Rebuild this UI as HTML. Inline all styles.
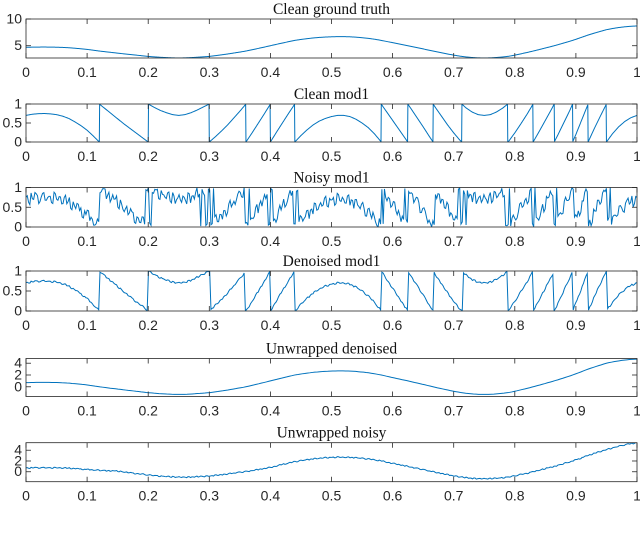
<!DOCTYPE html>
<html><head><meta charset="utf-8"><style>
html,body{margin:0;padding:0;background:#fff;}
svg{display:block;}
.tt{font-family:"Liberation Serif",serif;font-size:15.5px;fill:#111;}
.tk{font-family:"Liberation Sans",sans-serif;font-size:14px;fill:#262626;}
</style></head><body>
<svg id="fig" width="640" height="535" viewBox="0 0 640 535" xmlns="http://www.w3.org/2000/svg"></svg>
<script>
// ground-truth unwrapped phase g(t) (offset removed), t = 0..1 step 0.01
const gVals = [0.70,0.73,0.745,0.75,0.74,0.72,0.68,0.62,0.53,0.43,0.31,0.16,0.0,-0.13,-0.26,-0.39,-0.52,-0.64,-0.76,-0.88,
-1.0,-1.09,-1.17,-1.23,-1.28,-1.30,-1.28,-1.23,-1.16,-1.08,-1.0,-0.86,-0.71,-0.55,-0.37,-0.19,0.0,0.24,0.49,0.74,
1.0,1.26,1.51,1.76,2.0,2.17,2.32,2.45,2.55,2.62,2.67,2.70,2.70,2.67,2.60,2.50,2.38,2.22,2.03,1.80,
1.57,1.34,1.11,0.88,0.64,0.40,0.15,-0.09,-0.32,-0.55,-0.76,-0.95,-1.10,-1.21,-1.28,-1.30,-1.28,-1.21,-1.11,-0.98,
-0.76,-0.52,-0.27,0.0,0.28,0.57,0.86,1.17,1.5,1.83,2.2,2.6,3.0,3.35,3.68,4.0,4.22,4.4,4.54,4.64,4.70];
const truthOffset = 4.0;
// noise samples (normalised) used for noisy observations
const noiseVals = [0.3,-0.5,0.8,-0.2,0.6,-0.9,0.1,0.7,-0.4,0.2,-0.7,0.9,-0.1,0.4,-0.6,0.5,-0.3,0.8,-0.8,0.0,
0.6,-0.2,-0.9,0.3,0.7,-0.5,0.1,-0.4,0.9,-0.7,0.2,0.5,-0.1,-0.8,0.6,0.3,-0.6,0.8,-0.3,0.1,
-0.5,0.7,0.4,-0.9,0.2,-0.2,0.9,-0.6,0.0,0.5,-0.4,0.3,-0.8,0.6,0.1,-0.3,0.8,-0.7,0.4,-0.1,
0.7,-0.5,0.2,-0.9,0.5,0.0,-0.6,0.9,-0.2,0.3,-0.8,0.6,-0.4,0.1,0.8,-0.3,0.4,-0.7,0.2,-0.5,
0.9,-0.1,-0.6,0.5,0.3,-0.9,0.7,-0.2,0.1,-0.4,0.6,-0.8,0.4,0.0,-0.5,0.8,-0.3,0.2,-0.7,0.5,
-0.1,0.9,-0.6,0.3,-0.4,0.7,-0.8,0.1,0.4,-0.2,0.6,-0.9,0.2,0.8,-0.5,0.0,-0.3,0.7,-0.6,0.4,
0.1,-0.8,0.9,-0.2,0.3,-0.5,0.6,-0.7,0.2,0.5,-0.1,-0.4,0.8,-0.9,0.4,0.0,0.7,-0.3,-0.6,0.3,
0.9,-0.5,0.1,-0.8,0.6,-0.2,0.4,-0.7,0.2,0.8,-0.4,0.0,-0.9,0.5,0.3,-0.6,0.7,-0.1,0.1,-0.3,
0.6,-0.8,0.4,0.2,-0.5,0.9,-0.7,0.1,-0.2,0.5,-0.4,0.8,-0.6,0.3,0.0,-0.9,0.7,-0.3,0.4,-0.1,
0.2,-0.7,0.9,-0.5,0.6,-0.2,0.1,-0.8,0.5,0.3,-0.4,0.7,-0.6,0.0,0.8,-0.3,0.2,-0.9,0.4,-0.1,
0.6,-0.5,0.3,-0.7,0.9,0.1,-0.2,0.5,-0.8,0.4,-0.4,0.7,0.0,-0.6,0.2,0.8,-0.1,-0.9,0.3,0.6,
-0.3,0.5,-0.7,0.1,0.9,-0.5,0.4,-0.2,0.7,-0.8,0.2,0.0,-0.4,0.6,-0.6,0.3,0.8,-0.1,-0.9,0.5];
// extra bias in the unwrapped noisy result (t = 0..1 step 0.05)
const unwrapBias = [0,0,0.1,0.5,0.4,0.3,0.2,0.1,-0.2,-0.1,0,0,0,0,0,0,0,0,0,0.1,0.7];
const noisyAmp = 0.17, denoisedAmp = 0.025, unwrapNoiseAmp = 0.12;
const xTicks = [0,0.1,0.2,0.3,0.4,0.5,0.6,0.7,0.8,0.9,1];
const xTickLabels = ["0","0.1","0.2","0.3","0.4","0.5","0.6","0.7","0.8","0.9","1"];
const titles = ["Clean ground truth","Clean mod1","Noisy mod1","Denoised mod1","Unwrapped denoised","Unwrapped noisy"];
const yLims = [[2.7,10],[0,1],[0,1],[0,1],[-1.65,4.8],[-1.85,5.4]];
const yTicks = [[5,10],[0,0.5,1],[0,0.5,1],[0,0.5,1],[0,2,4],[0,2,4]];
const yTickLabels = [["5","10"],["0","0.5","1"],["0","0.5","1"],["0","0.5","1"],["0","2","4"],["0","2","4"]];

const NS = "http://www.w3.org/2000/svg";
const svg = document.getElementById('fig');
const X0 = 26, X1 = 637;
const tops = [19,104,187.5,271,358.5,442.7];
const hts = [39,38,39.5,40,38,39];
const xs = t => X0 + t*(X1-X0);
function gAt(t){ const p=t*100; const i=Math.min(99,Math.floor(p)); const f=p-i; return gVals[i]*(1-f)+gVals[i+1]*f; }
function biasAt(t){ const p=t*20; const i=Math.min(19,Math.floor(p)); const f=p-i; return unwrapBias[i]*(1-f)+unwrapBias[i+1]*f; }
function mod1(v){ return v-Math.floor(v); }
function el(tag, attrs, parent){ const e=document.createElementNS(NS,tag); for(const k in attrs) e.setAttribute(k,attrs[k]); (parent||svg).appendChild(e); return e; }

// dense noise sequence: interleave noise with reversed noise
const N = noiseVals.length;
const dense = [];
for(let i=0;i<N;i++){ dense.push(noiseVals[i]); dense.push(noiseVals[N-1-i]); }
const M = dense.length;
const series = [
  () => { const a=[]; for(let i=0;i<=1000;i++){const t=i/1000;a.push([t,gAt(t)+truthOffset]);} return a; },
  () => { const a=[]; for(let i=0;i<=2000;i++){const t=i/2000;a.push([t,mod1(gAt(t))]);} return a; },
  () => { const a=[]; for(let i=0;i<M;i++){const t=i/(M-1);a.push([t,mod1(gAt(t)+noisyAmp*dense[i])]);} return a; },
  () => { const a=[]; for(let i=0;i<M;i++){const t=i/(M-1);a.push([t,mod1(gAt(t)+denoisedAmp*dense[i])]);} return a; },
  () => { const a=[]; for(let i=0;i<N;i++){const t=i/(N-1);a.push([t,gAt(t)+0.3*denoisedAmp*noiseVals[i]]);} return a; },
  () => { const a=[]; for(let i=0;i<M;i++){const t=i/(M-1);a.push([t,gAt(t)+biasAt(t)+unwrapNoiseAmp*dense[i]]);} return a; }
];

for(let p=0;p<6;p++){
  const top=tops[p], h=hts[p], bot=top+h;
  const [lo,hi]=yLims[p];
  const ys = v => bot - (v-lo)/(hi-lo)*h;
  const g = el('g',{});
  
  
  const cid='clip'+p;
  const cp=el('clipPath',{id:cid},g); el('rect',{x:X0,y:top,width:X1-X0,height:h},cp);
  const title=el('text',{x:(X0+X1)/2,y:top-5,'text-anchor':'middle',class:'tt'},g);
  title.textContent=titles[p];
  
  
  const pts=series[p]().map(d=>xs(d[0]).toFixed(2)+','+ys(d[1]).toFixed(2)).join(' ');
  const line=el('polyline',{points:pts,fill:'none',stroke:'#0072BD','stroke-width':1,'clip-path':'url(#'+cid+')'},g);
  
  
  const box=el('rect',{x:X0,y:top,width:X1-X0,height:h,fill:'none',stroke:'#262626','stroke-width':0.8},g);
  
  
  xTicks.forEach((t,i)=>{
    const x=xs(t);
    el('line',{x1:x,y1:bot,x2:x,y2:bot-5,stroke:'#262626','stroke-width':0.8},g);
    el('line',{x1:x,y1:top,x2:x,y2:top+5,stroke:'#262626','stroke-width':0.8},g);
    const tx=el('text',{x:x,y:bot+19,'text-anchor':'middle',class:'tk'},g);
    tx.textContent=xTickLabels[i];
    
    
  });
  yTicks[p].forEach((v,i)=>{
    const y=ys(v);
    el('line',{x1:X0,y1:y,x2:X0+5,y2:y,stroke:'#262626','stroke-width':0.8},g);
    el('line',{x1:X1,y1:y,x2:X1-5,y2:y,stroke:'#262626','stroke-width':0.8},g);
    const ty=el('text',{x:X0-4,y:y+4.5,'text-anchor':'end',class:'tk'},g);
    ty.textContent=yTickLabels[p][i];
    
    
  });
}
</script>
</body></html>
